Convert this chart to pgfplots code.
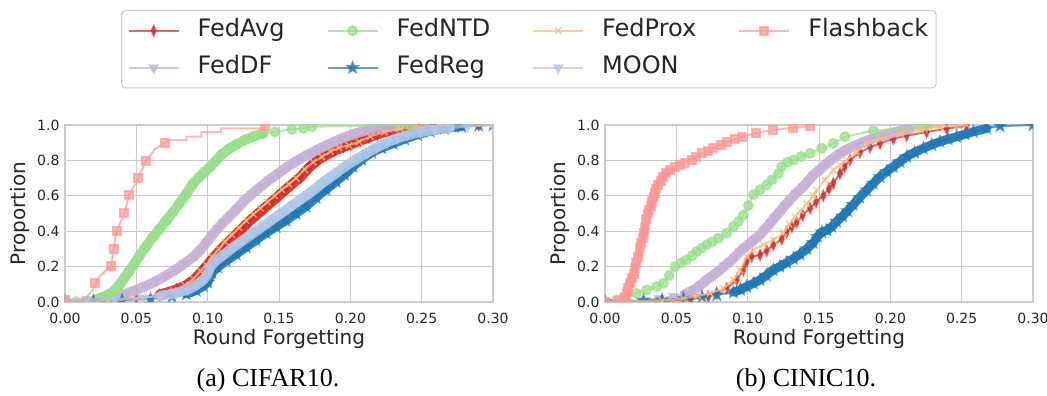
\documentclass[border=0pt]{standalone}
\usepackage{fontspec}
\setmainfont{DejaVu Sans}
\newfontfamily\capfont{Liberation Serif}
\usepackage{pgfplots}
\usepackage{pgfplotstable}
\pgfplotsset{compat=1.18}

% tab20 colours
\definecolor{cAvg}{HTML}{D62728}
\definecolor{cDF}{HTML}{C5B0D5}
\definecolor{cNTD}{HTML}{98DF8A}
\definecolor{cReg}{HTML}{1F77B4}
\definecolor{cProx}{HTML}{FFBB78}
\definecolor{cMoon}{HTML}{AEC7E8}
\definecolor{cFlash}{HTML}{FF9896}
\definecolor{gridc}{HTML}{CCCCCC}
\definecolor{txt}{HTML}{262626}

\newcommand{\legfont}{\fontsize{24}{29}\selectfont}
\newcommand{\labfont}{\fontsize{20}{24}\selectfont}
\newcommand{\tickfont}{\fontsize{14}{16}\selectfont}

% filled five-pointed star
\pgfdeclareplotmark{fstar}{%
  \pgfpathmoveto{\pgfpointpolar{90}{\pgfplotmarksize}}%
  \pgfpathlineto{\pgfpointpolar{126}{0.42\pgfplotmarksize}}%
  \pgfpathlineto{\pgfpointpolar{162}{\pgfplotmarksize}}%
  \pgfpathlineto{\pgfpointpolar{198}{0.42\pgfplotmarksize}}%
  \pgfpathlineto{\pgfpointpolar{234}{\pgfplotmarksize}}%
  \pgfpathlineto{\pgfpointpolar{270}{0.42\pgfplotmarksize}}%
  \pgfpathlineto{\pgfpointpolar{306}{\pgfplotmarksize}}%
  \pgfpathlineto{\pgfpointpolar{342}{0.42\pgfplotmarksize}}%
  \pgfpathlineto{\pgfpointpolar{18}{\pgfplotmarksize}}%
  \pgfpathlineto{\pgfpointpolar{54}{0.42\pgfplotmarksize}}%
  \pgfpathclose
  \pgfusepathqfillstroke}

% ---------------- CIFAR10 ----------------
\pgfplotstableread{
x y
0.000 0.003
0.020 0.006
0.036 0.012
0.050 0.020
0.066 0.040
0.078 0.070
0.085 0.095
0.091 0.130
0.096 0.175
0.100 0.210
0.104 0.250
0.109 0.295
0.114 0.335
0.119 0.375
0.124 0.415
0.129 0.455
0.134 0.490
0.139 0.525
0.144 0.560
0.149 0.595
0.154 0.630
0.159 0.665
0.165 0.705
0.171 0.760
0.177 0.800
0.183 0.830
0.189 0.855
0.195 0.875
0.201 0.893
0.207 0.912
0.213 0.930
0.219 0.947
0.226 0.965
0.235 0.981
0.246 0.993
0.260 0.997
0.290 1.000
}\avgA

\pgfplotstableread{
x y
0.000 0.002
0.030 0.008
0.050 0.018
0.065 0.035
0.076 0.065
0.084 0.095
0.090 0.130
0.095 0.175
0.099 0.210
0.103 0.255
0.108 0.300
0.112 0.340
0.117 0.380
0.122 0.420
0.127 0.460
0.132 0.495
0.137 0.530
0.142 0.565
0.147 0.600
0.152 0.635
0.157 0.665
0.162 0.700
0.168 0.750
0.174 0.790
0.180 0.820
0.186 0.850
0.192 0.872
0.199 0.885
0.206 0.905
0.214 0.935
0.224 0.960
0.235 0.978
0.248 0.991
0.262 0.997
0.300 1.000
}\proxA

\pgfplotstableread{
x y
0.000 0.004
0.015 0.008
0.028 0.015
0.036 0.030
0.044 0.050
0.050 0.068
0.057 0.092
0.064 0.118
0.071 0.150
0.078 0.185
0.084 0.220
0.090 0.255
0.095 0.295
0.099 0.335
0.103 0.375
0.107 0.415
0.111 0.450
0.116 0.490
0.121 0.530
0.126 0.575
0.131 0.610
0.137 0.650
0.143 0.690
0.150 0.730
0.157 0.770
0.164 0.805
0.171 0.835
0.178 0.865
0.186 0.895
0.194 0.925
0.202 0.948
0.211 0.970
0.220 0.985
0.232 0.995
0.245 1.000
}\dfA

\pgfplotstableread{
x y
0.000 0.010
0.015 0.015
0.035 0.018
0.055 0.024
0.067 0.035
0.078 0.050
0.086 0.070
0.092 0.095
0.097 0.125
0.100 0.160
0.102 0.200
0.106 0.235
0.112 0.272
0.118 0.310
0.125 0.350
0.132 0.390
0.139 0.430
0.146 0.470
0.153 0.510
0.160 0.550
0.167 0.590
0.174 0.630
0.180 0.670
0.186 0.705
0.192 0.740
0.198 0.775
0.205 0.810
0.212 0.845
0.219 0.875
0.226 0.903
0.233 0.925
0.240 0.943
0.249 0.960
0.259 0.973
0.270 0.983
0.282 0.991
0.300 1.000
}\moonA

\pgfplotstableread{
x y
0.000 0.002
0.020 0.005
0.040 0.010
0.060 0.018
0.075 0.030
0.085 0.045
0.092 0.065
0.097 0.090
0.100 0.110
0.103 0.165
0.107 0.195
0.113 0.232
0.120 0.270
0.127 0.310
0.134 0.350
0.141 0.390
0.148 0.425
0.155 0.460
0.162 0.500
0.169 0.540
0.176 0.590
0.183 0.635
0.190 0.680
0.196 0.720
0.202 0.765
0.208 0.805
0.215 0.845
0.222 0.870
0.230 0.895
0.238 0.920
0.247 0.945
0.256 0.965
0.266 0.980
0.278 0.991
0.290 0.997
0.300 1.000
}\regA

\pgfplotstableread{
x y
0.008 0.002
0.016 0.006
0.022 0.015
0.026 0.026
0.030 0.040
0.034 0.060
0.038 0.095
0.0415 0.135
0.045 0.175
0.0485 0.215
0.052 0.260
0.057 0.315
0.0615 0.365
0.066 0.410
0.071 0.460
0.0755 0.505
0.080 0.555
0.085 0.610
0.0895 0.665
0.094 0.705
0.098 0.735
0.102 0.765
0.106 0.800
0.110 0.835
0.115 0.865
0.120 0.890
0.126 0.915
0.132 0.935
0.139 0.953
0.147 0.962
0.159 0.975
0.167 0.981
0.173 0.990
0.235 1.000
0.242 1.000
}\ntdA

\pgfplotstableread{
x y
0.000 0.010
0.012 0.010
0.016 0.035
0.019 0.065
0.0212 0.107
0.025 0.150
0.029 0.180
0.0323 0.201
0.034 0.299
0.0362 0.402
0.039 0.450
0.0415 0.500
0.0449 0.602
0.048 0.650
0.0514 0.699
0.054 0.750
0.0569 0.799
0.060 0.830
0.063 0.865
0.0698 0.897
0.0726 0.915
0.0853 0.915
0.0853 0.935
0.0956 0.935
0.0956 0.960
0.1094 0.960
0.1094 0.981
0.139 0.981
0.140 0.994
}\flashA

\pgfplotstableread{
x y
0.000 0.010
0.0212 0.107
0.0323 0.201
0.034 0.299
0.0362 0.402
0.0415 0.500
0.0449 0.602
0.0514 0.699
0.0569 0.799
0.0698 0.897
0.140 0.994
}\flashAm

% ---------------- CINIC10 ----------------
\pgfplotstableread{
x y
0.000 0.002
0.040 0.006
0.060 0.015
0.0724 0.030
0.0783 0.050
0.0853 0.077
0.0923 0.125
0.097 0.181
0.0993 0.228
0.1028 0.257
0.1087 0.266
0.1133 0.290
0.118 0.323
0.1238 0.355
0.1273 0.395
0.1310 0.425
0.1343 0.450
0.1385 0.490
0.1437 0.530
0.1480 0.565
0.153 0.600
0.157 0.640
0.160 0.670
0.1647 0.726
0.168 0.765
0.1717 0.802
0.1787 0.845
0.1858 0.875
0.1928 0.896
0.2021 0.922
0.2115 0.940
0.2255 0.960
0.2395 0.980
0.2535 0.995
}\avgB

\pgfplotstableread{
x y
0.000 0.002
0.040 0.008
0.055 0.020
0.065 0.035
0.0736 0.049
0.083 0.077
0.090 0.125
0.0946 0.181
0.0993 0.257
0.104 0.294
0.111 0.323
0.118 0.351
0.125 0.392
0.1290 0.440
0.1332 0.481
0.1370 0.515
0.1414 0.555
0.146 0.600
0.1484 0.632
0.1542 0.689
0.160 0.745
0.1647 0.775
0.1694 0.802
0.1764 0.849
0.1834 0.896
0.1928 0.925
0.2068 0.953
0.2208 0.972
0.2348 0.990
0.2535 1.000
}\proxB

\pgfplotstableread{
x y
0.000 0.002
0.015 0.005
0.028 0.010
0.038 0.020
0.048 0.032
0.056 0.045
0.062 0.068
0.067 0.095
0.0713 0.125
0.076 0.152
0.0806 0.181
0.084 0.205
0.0876 0.228
0.091 0.255
0.0946 0.285
0.098 0.308
0.1016 0.332
0.105 0.355
0.1087 0.379
0.112 0.410
0.1157 0.445
0.119 0.478
0.1227 0.511
0.126 0.545
0.1297 0.577
0.134 0.615
0.139 0.652
0.1425 0.685
0.146 0.717
0.151 0.750
0.1554 0.783
0.160 0.812
0.1647 0.840
0.170 0.864
0.1764 0.887
0.182 0.906
0.188 0.925
0.196 0.944
0.2044 0.962
0.214 0.977
0.2255 0.990
0.2465 1.000
}\dfB

\pgfplotstableread{
x y
0.000 0.002
0.027 0.008
0.040 0.012
0.055 0.020
0.068 0.030
0.0783 0.040
0.090 0.055
0.095 0.070
0.0993 0.087
0.104 0.105
0.1087 0.125
0.113 0.150
0.118 0.181
0.1225 0.200
0.1273 0.222
0.132 0.245
0.1367 0.270
0.1415 0.300
0.146 0.335
0.149 0.370
0.152 0.395
0.1555 0.405
0.159 0.425
0.1624 0.455
0.1665 0.485
0.170 0.515
0.174 0.550
0.1785 0.590
0.1834 0.632
0.188 0.670
0.1928 0.708
0.1975 0.737
0.2021 0.764
0.2068 0.793
0.2115 0.821
0.217 0.845
0.2231 0.868
0.229 0.888
0.2348 0.906
0.2405 0.920
0.2465 0.934
0.2525 0.948
0.2582 0.962
0.2675 0.981
0.2769 0.994
0.300 1.000
}\regB

\pgfplotstableread{
x y
0.000 0.002
0.008 0.012
0.014 0.030
0.022 0.050
0.0292 0.068
0.0362 0.087
0.041 0.107
0.045 0.150
0.049 0.200
0.053 0.220
0.0572 0.238
0.061 0.262
0.0643 0.285
0.068 0.305
0.0713 0.323
0.075 0.340
0.0795 0.360
0.0853 0.389
0.090 0.426
0.0935 0.455
0.097 0.492
0.1005 0.545
0.104 0.606
0.1087 0.634
0.1133 0.662
0.117 0.690
0.1215 0.725
0.1238 0.764
0.128 0.790
0.132 0.802
0.1375 0.822
0.1437 0.840
0.1519 0.868
0.160 0.896
0.1682 0.934
0.188 0.968
0.221 0.990
0.226 1.000
}\ntdB

\pgfplotstableread{
x y
0.000 0.002
0.010 0.005
0.013 0.015
0.014 0.030
0.0155 0.055
0.0164 0.080
0.0175 0.105
0.0187 0.135
0.020 0.160
0.021 0.190
0.022 0.220
0.0234 0.255
0.0245 0.305
0.0255 0.335
0.0264 0.360
0.0272 0.390
0.028 0.417
0.029 0.470
0.030 0.495
0.031 0.520
0.032 0.545
0.0327 0.570
0.034 0.595
0.035 0.615
0.036 0.640
0.0374 0.662
0.039 0.685
0.0409 0.709
0.043 0.730
0.0456 0.746
0.049 0.760
0.0526 0.774
0.056 0.788
0.0607 0.803
0.064 0.822
0.0678 0.840
0.072 0.855
0.076 0.868
0.081 0.888
0.0853 0.906
0.091 0.920
0.0958 0.934
0.106 0.955
0.118 0.972
0.132 0.985
0.144 0.994
}\flashB

\pgfplotsset{
  panel/.style={
    width=428pt, height=177pt, scale only axis,
    xmin=0, xmax=0.3, ymin=0, ymax=1,
    xtick={0,0.05,0.1,0.15,0.2,0.25,0.3},
    xticklabels={0.00,0.05,0.10,0.15,0.20,0.25,0.30},
    ytick={0,0.2,0.4,0.6,0.8,1},
    yticklabels={0.0,0.2,0.4,0.6,0.8,1.0},
    grid=major,
    major grid style={gridc, line width=1pt},
    axis line style={gridc, line width=1.25pt},
    major tick length=0pt,
    tick label style={font=\tickfont, text=txt},
    xticklabel style={yshift=-8pt},
    yticklabel style={xshift=-2pt},
    xlabel={Round Forgetting}, ylabel={Proportion},
    every axis x label/.style={at={(axis description cs:0.5,-0.21)}, anchor=center, font=\labfont, text=txt},
    every axis y label/.style={at={(axis description cs:-0.105,0.5)}, rotate=90, anchor=center, font=\labfont, text=txt},
    clip marker paths=true,
  },
  band/.style={line width=10pt, line join=round, line cap=round, opacity=0.9, mark=none, forget plot},
  sAvg/.style={cAvg, line width=2pt, opacity=0.7, mark=diamond*, mark size=4.5pt,
    mark options={solid, xscale=0.6, fill=cAvg, draw=cAvg, opacity=0.7}},
  sDF/.style={cDF, line width=2pt, opacity=0.7, mark=triangle*, mark size=4.5pt,
    mark options={solid, rotate=180, fill=cDF, draw=cDF, opacity=0.7}},
  sNTD/.style={cNTD, line width=2pt, opacity=0.7, mark=*, mark size=4.5pt,
    mark options={solid, fill=cNTD, draw=cNTD, opacity=0.7}},
  sReg/.style={cReg, line width=2pt, opacity=0.7, mark=fstar, mark size=5pt,
    mark options={solid, fill=cReg, draw=cReg, opacity=0.7}},
  sProx/.style={cProx, line width=2pt, opacity=0.75, mark=x, mark size=4.5pt,
    mark options={solid, draw=cProx, line width=1.5pt, opacity=0.75}},
  sMoon/.style={cMoon, line width=2pt, opacity=0.7, mark=triangle*, mark size=4.5pt,
    mark options={solid, rotate=180, fill=cMoon, draw=cMoon, opacity=0.7}},
  sFlash/.style={cFlash, line width=2pt, opacity=0.7, mark=square*, mark size=4pt,
    mark options={solid, fill=cFlash, draw=cFlash, opacity=0.7}},
}

\begin{document}
\begin{tikzpicture}
\path[use as bounding box] (0,0) rectangle (1047pt,396pt);

% ---------- left panel: CIFAR10 ----------
\begin{axis}[panel, at={(65pt,94pt)}, anchor=south west,
  legend columns=4,
  legend cell align=left,
  legend image code/.code={\draw[mark repeat=2,mark phase=2,#1] plot coordinates {(0pt,0pt) (25pt,0pt) (50pt,0pt)};},
  legend style={at={(axis description cs:1.084,1.65)}, anchor=north,
    draw=gridc, line width=1pt, rounded corners=4pt, fill=white,
    font=\legfont, text=txt,
    inner xsep=6pt, inner ysep=6pt,
    nodes={font=\legfont, text height=17pt, text depth=5.5pt, inner ysep=3pt},
    row sep=8.5pt,
    /tikz/every odd column/.append style={column sep=16pt},
    /tikz/every even column/.append style={column sep=40pt}},
]
\addlegendimage{sAvg}\addlegendentry{FedAvg}
\addlegendimage{sNTD}\addlegendentry{FedNTD}
\addlegendimage{sProx}\addlegendentry{FedProx}
\addlegendimage{sFlash}\addlegendentry{Flashback}
\addlegendimage{sDF}\addlegendentry{FedDF}
\addlegendimage{sReg}\addlegendentry{FedReg}
\addlegendimage{sMoon}\addlegendentry{MOON}

\addplot[cAvg, band, restrict x to domain=0.06:0.25] table {\avgA};
\addplot[sAvg, forget plot] table {\avgA};
\addplot[cDF, band, restrict x to domain=0.03:0.235] table {\dfA};
\addplot[sDF, forget plot] table {\dfA};
\addplot[cNTD, band, restrict x to domain=0.02:0.14] table {\ntdA};
\addplot[sNTD, forget plot] table {\ntdA};
\addplot[cReg, band, line width=9pt, restrict x to domain=0.085:0.285] table {\regA};
\addplot[sReg, forget plot] table {\regA};
\addplot[sProx, forget plot] table {\proxA};
\addplot[cMoon, band, restrict x to domain=0.065:0.27] table {\moonA};
\addplot[sMoon, forget plot] table {\moonA};
\addplot[sFlash, mark=none, forget plot] table {\flashA};
\addplot[sFlash, only marks, forget plot] table {\flashAm};
\end{axis}

% ---------- right panel: CINIC10 ----------
\begin{axis}[panel, at={(605pt,94pt)}, anchor=south west]
\addplot[sAvg, forget plot] table {\avgB};
\addplot[cDF, band, restrict x to domain=0.055:0.215] table {\dfB};
\addplot[sDF, forget plot] table {\dfB};
\addplot[sNTD, forget plot] table {\ntdB};
\addplot[cReg, band, line width=9pt, restrict x to domain=0.085:0.27] table {\regB};
\addplot[sReg, forget plot] table {\regB};
\addplot[sProx, forget plot] table {\proxB};
\addplot[cFlash, band, line width=8pt, restrict x to domain=0.012:0.046] table {\flashB};
\addplot[sFlash, forget plot] table {\flashB};
\end{axis}

\node[font=\capfont\fontsize{26}{31}\selectfont, text=black] at (268pt,16pt) {(a) CIFAR10.};
\node[font=\capfont\fontsize{26}{31}\selectfont, text=black] at (806pt,16pt) {(b) CINIC10.};
\end{tikzpicture}
\end{document}
